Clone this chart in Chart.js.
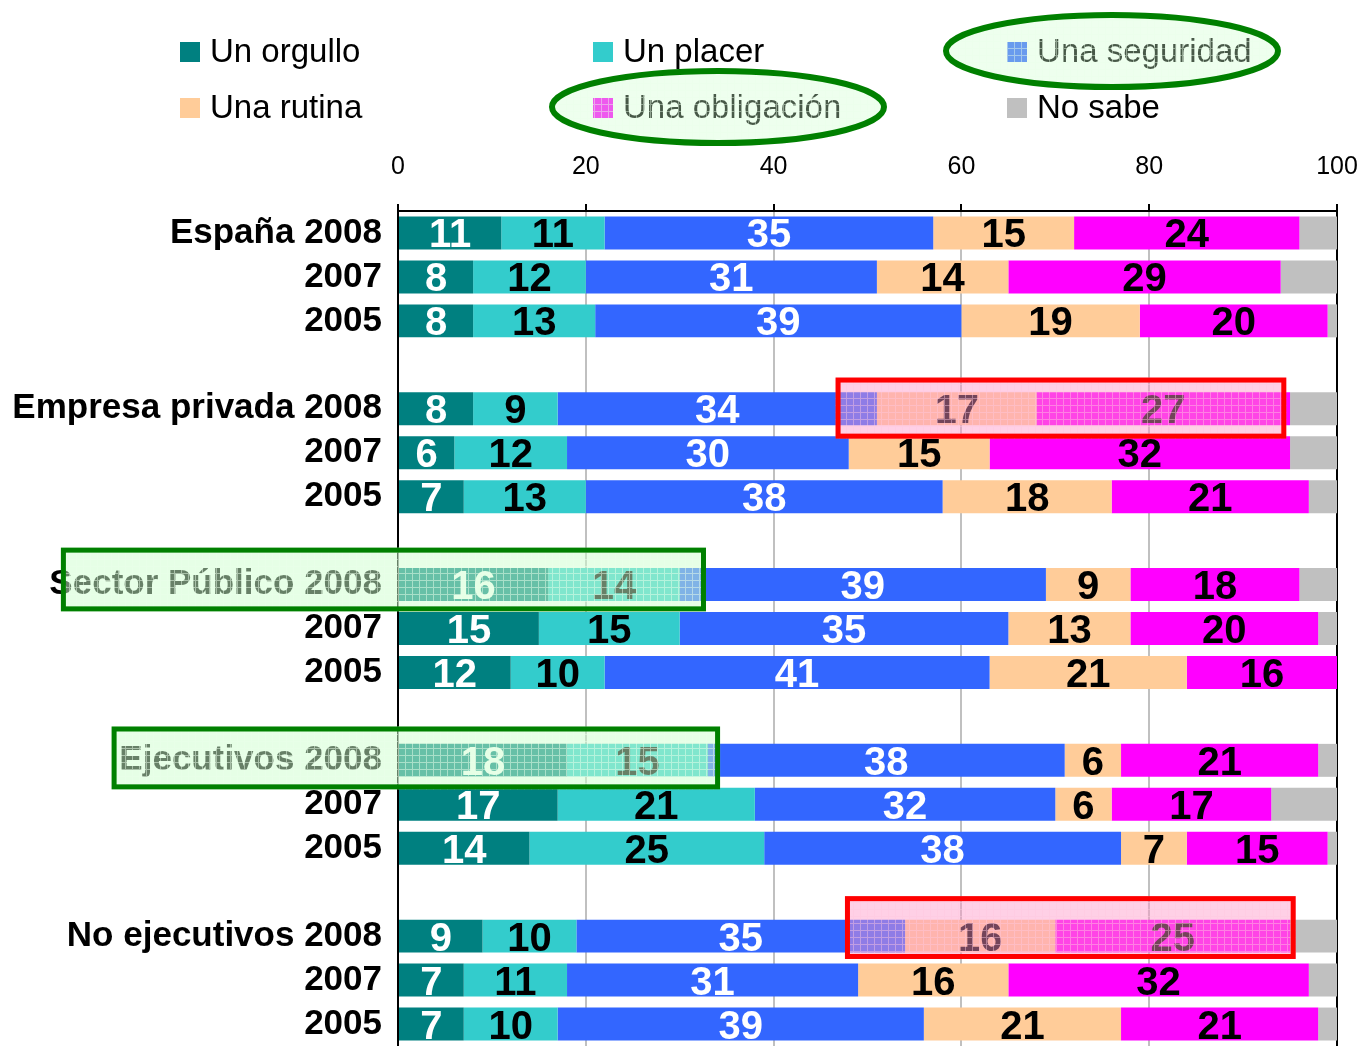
<!DOCTYPE html>
<html><head><meta charset="utf-8">
<script src="https://cdn.jsdelivr.net/npm/chart.js@4.4.0/dist/chart.umd.min.js"></script>
<style>html,body{margin:0;padding:0;background:#fff;overflow:hidden}#wrap{width:1363px;height:1046px;position:relative}</style>
</head><body><div id="wrap"><canvas id="c"></canvas></div>
<script>
// ---------- DATA ----------
const categories = ['España 2008','2007','2005','',
  'Empresa privada 2008','2007','2005','',
  'Sector Público 2008','2007','2005','',
  'Ejecutivos 2008','2007','2005','',
  'No ejecutivos 2008','2007','2005'];
const seriesNames = ['Un orgullo','Un placer','Una seguridad','Una rutina','Una obligación','No sabe'];
const orgullo    = [11, 8, 8,null, 8, 6, 7,null,16,15,12,null,18,17,14,null, 9, 7, 7];
const placer     = [11,12,13,null, 9,12,13,null,14,15,10,null,15,21,25,null,10,11,10];
const seguridad  = [35,31,39,null,34,30,38,null,39,35,41,null,38,32,38,null,35,31,39];
const rutina     = [15,14,19,null,17,15,18,null, 9,13,21,null, 6, 6, 7,null,16,16,21];
const obligacion = [24,29,20,null,27,32,21,null,18,20,16,null,21,17,15,null,25,32,21];
const noSabe     = [ 4, 6, 1,null, 5, 5, 3,null, 4, 2, 0,null, 2, 7, 1,null, 5, 3, 2];
const xTickValues = [0,20,40,60,80,100];

// ---------- STYLE ----------
const seriesColors = ['#008080','#33CCCC','#3366FF','#FFCC99','#FF00FF','#C0C0C0'];
const labelColors  = ['#FFFFFF','#000000','#FFFFFF','#000000','#000000', null];
const FONT = "'Liberation Sans', Arial, Helvetica, sans-serif";

// highlight annotations (in data units / category slots)
const highlightBoxes = [
  {cat:4,  from:46.6,  to:94.6, up:0.71, down:0.68, kind:'red'},
  {cat:16, from:47.6,  to:95.6, up:0.91, down:0.52, kind:'red'},
  {cat:8,  from:-35.9, to:32.8, up:0.84, down:0.61, kind:'green'},
  {cat:12, from:-30.5, to:34.3, up:0.77, down:0.66, kind:'green'}
];
const legendEllipses = [
  {item:2, dx:105, dy:-1, rx:169, ry:39},
  {item:4, dx:125, dy:-1, rx:169, ry:39}
];
const legendCols = [180, 593, 1007];
const legendRows = [52, 108];

const allSeries = [orgullo, placer, seguridad, rutina, obligacion, noSabe];

function makePattern(ctx, base, line) {
  const c = document.createElement('canvas');
  c.width = 7; c.height = 7;
  const g = c.getContext('2d');
  g.fillStyle = base; g.fillRect(0,0,7,7);
  g.fillStyle = line; g.fillRect(6,0,1,7); g.fillRect(0,6,6,1);
  return ctx.createPattern(c, 'repeat');
}

function zeroPad(s) { s.paddingLeft = 0; s.paddingRight = 0; s.paddingTop = 0; s.paddingBottom = 0; }

const labelPlugin = {
  id: 'segLabels',
  afterDatasetsDraw(chart) {
    const ctx = chart.ctx;
    ctx.save();
    ctx.font = "bold 40px " + FONT;
    ctx.textAlign = 'center';
    ctx.textBaseline = 'alphabetic';
    chart.data.datasets.forEach((ds, i) => {
      if (!labelColors[i]) return;
      const meta = chart.getDatasetMeta(i);
      meta.data.forEach((bar, j) => {
        const v = ds.data[j];
        if (v == null || v === 0) return;
        const p = bar.getProps(['x','y','base'], true);
        ctx.fillStyle = labelColors[i];
        ctx.fillText(String(v), (p.x + p.base) / 2, p.y + 14.5);
      });
    });
    ctx.restore();
  }
};

const legendPlugin = {
  id: 'gridLegend',
  afterDraw(chart) {
    const ctx = chart.ctx;
    ctx.save();
    ctx.font = "33px " + FONT;
    ctx.textBaseline = 'middle';
    ctx.textAlign = 'left';
    chart.data.datasets.forEach((ds, i) => {
      const x = legendCols[i % 3], y = legendRows[Math.floor(i / 3)];
      ctx.fillStyle = ds.backgroundColor;
      ctx.fillRect(x, y - 10, 20, 20);
      ctx.fillStyle = '#000';
      ctx.fillText(ds.label, x + 30, y + 1);
    });
    // ellipses
    const pat = makePattern(ctx, 'rgba(205,255,205,0.35)', 'rgba(235,255,235,0.45)');
    legendEllipses.forEach(e => {
      const cx = legendCols[e.item % 3] + e.dx, cy = legendRows[Math.floor(e.item / 3)] + e.dy;
      ctx.beginPath();
      ctx.ellipse(cx, cy, e.rx - 3, e.ry - 3, 0, 0, Math.PI * 2);
      ctx.fillStyle = pat; ctx.fill();
      ctx.lineWidth = 6; ctx.strokeStyle = '#008000'; ctx.stroke();
    });
    // boxes
    const xs = chart.scales.x, ys = chart.scales.y;
    const slot = ys.getPixelForValue(1) - ys.getPixelForValue(0);
    const patRed = makePattern(ctx, 'rgba(255,150,200,0.45)', 'rgba(255,200,225,0.45)');
    const patGreen = makePattern(ctx, 'rgba(205,255,205,0.5)', 'rgba(235,255,235,0.5)');
    highlightBoxes.forEach(b => {
      const x0 = xs.getPixelForValue(b.from), x1 = xs.getPixelForValue(b.to);
      const yc = ys.getPixelForValue(b.cat);
      const y0 = yc - b.up * slot, y1 = yc + b.down * slot;
      ctx.fillStyle = b.kind === 'red' ? patRed : patGreen;
      ctx.fillRect(x0, y0, x1 - x0, y1 - y0);
      const lw = 5;
      ctx.lineWidth = lw;
      ctx.strokeStyle = b.kind === 'red' ? '#FF0000' : '#008000';
      ctx.strokeRect(x0 + lw/2, y0 + lw/2, x1 - x0 - lw, y1 - y0 - lw);
    });
    ctx.restore();
  }
};

new Chart(document.getElementById('c'), {
  type: 'bar',
  data: {
    labels: categories,
    datasets: allSeries.map((d, i) => ({
      label: seriesNames[i],
      data: d,
      backgroundColor: seriesColors[i],
      borderWidth: 0,
      barPercentage: 0.75,
      categoryPercentage: 1.0
    }))
  },
  options: {
    indexAxis: 'y',
    responsive: true,
    maintainAspectRatio: false,
    animation: false,
    layout: { padding: { top: 140, right: 26, left: 0, bottom: 0 } },
    plugins: { legend: { display: false }, tooltip: { enabled: false } },
    scales: {
      x: {
        stacked: true, position: 'top', min: 0, max: 100,
        afterBuildTicks(s) { s.ticks = xTickValues.map(v => ({ value: v })); },
        afterFit(s) { s.height = 71; zeroPad(s); },
        ticks: { color: '#000', font: { family: FONT, size: 25 }, padding: 22 },
        grid: {
          color: c => (c.tick && c.tick.value === 100) ? '#000' : '#C0C0C0',
          lineWidth: 2,
          tickColor: '#000', tickLength: 7, drawTicks: true
        },
        border: { color: '#000', width: 2 }
      },
      y: {
        stacked: true,
        afterFit(s) { s.width = 398; zeroPad(s); },
        ticks: { color: '#000', font: { family: FONT, size: 35, weight: 'bold' }, padding: 16, autoSkip: false },
        grid: { display: false, drawTicks: false },
        border: { color: '#000', width: 2 }
      }
    }
  },
  plugins: [labelPlugin, legendPlugin]
});
</script></body></html>
